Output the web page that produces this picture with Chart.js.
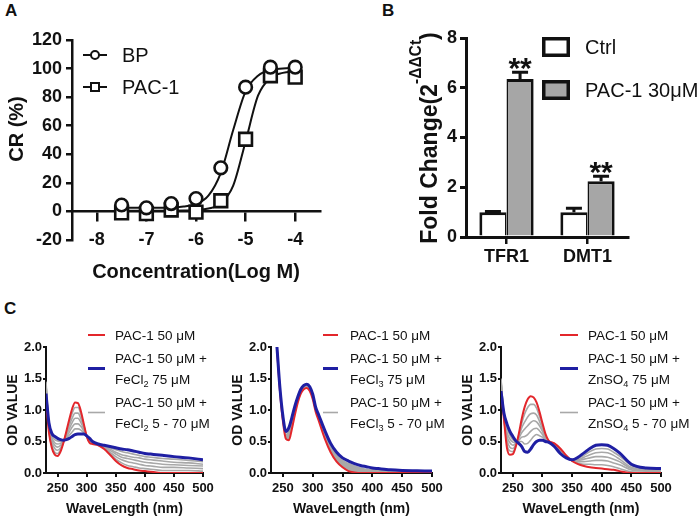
<!DOCTYPE html>
<html lang="en">
<head>
<meta charset="utf-8">
<title>PAC-1 figure</title>
<script src="https://cdn.jsdelivr.net/npm/chart.js@4.4.1/dist/chart.umd.min.js"></script>
<style>
  body { margin: 0; width: 700px; height: 523px; position: relative; overflow: hidden; background: #fff;
         font-family: "Liberation Sans", Arial, sans-serif; color: #111; }
  canvas { position: absolute; }
  .tag { position: absolute; font-size: 17px; font-weight: bold; line-height: 1; }
</style>
</head>
<body>
<div class="tag" style="left:5px;top:2px">A</div>
<div class="tag" style="left:382px;top:2px">B</div>
<div class="tag" style="left:4px;top:300px">C</div>
<canvas id="panelA" width="350" height="290" style="left:0;top:0"></canvas>
<canvas id="panelB" width="340" height="290" style="left:360px;top:0"></canvas>
<canvas id="panelC1" width="225" height="213" style="left:0;top:310px"></canvas>
<canvas id="panelC2" width="245" height="213" style="left:225px;top:310px"></canvas>
<canvas id="panelC3" width="245" height="213" style="left:455px;top:310px"></canvas>
<script>
/* ================= DATA: PANEL A ================= */
const concLog = [-7.5, -7, -6.5, -6, -5.5, -5, -4.5, -4];
const bpCR = [4.5, 2.5, 5.5, 9, 30.5, 87, 101, 101];
const pacCR = [-1, -1.5, 1, -0.5, 7.5, 50.5, 95, 94];
// fitted curves
const fitLog = [-7.5, -7.25, -7, -6.75, -6.5, -6.25, -6, -5.75, -5.5, -5.25, -5, -4.75, -4.5, -4.25, -4];
const bpFit = [2.5, 2.5, 2.5, 2.6, 2.8, 3.4, 5.2, 11, 27, 57, 84, 95, 99, 100, 100.5];
const pacFit = [0.5, 0.5, 0.5, 0.5, 0.5, 0.6, 0.9, 2, 5.5, 18, 49, 81, 93.5, 97, 98];
const concTicks = [-8, -7, -6, -5, -4];
const crTicks = [-20, 0, 20, 40, 60, 80, 100, 120];

/* ================= DATA: PANEL B ================= */
const genes = ["TFR1", "DMT1"];
const ctrlFold = [1.0, 1.0];
const ctrlErr = [0.03, 0.16];
const pacFold = [6.35, 2.24];
const pacErr = [0.27, 0.2];
const pacStars = ["**", "**"];
const foldTicks = [0, 2, 4, 6, 8];

/* ================= DATA: PANEL C ================= */
const waveNm = [230, 235, 240, 245, 250, 255, 260, 265, 270, 275, 280, 285, 290, 295, 300, 305, 310,
  320, 330, 340, 350, 360, 370, 380, 390, 400, 410, 420, 430, 450, 475, 500];
const wlTicks = [250, 300, 350, 400, 450, 500];
const odTicks = [0, 0.5, 1, 1.5, 2];

const fe2Red = [1.15, 0.65, 0.4, 0.29, 0.27, 0.34, 0.48, 0.66, 0.85, 1.02, 1.12, 1.11, 0.98, 0.78, 0.58, 0.48, 0.46,
  0.44, 0.38, 0.29, 0.19, 0.12, 0.08, 0.06, 0.04, 0.03, 0.02, 0.01, 0, 0, 0, 0];
const fe2Blue = [1.26, 0.8, 0.63, 0.58, 0.55, 0.53, 0.52, 0.53, 0.55, 0.58, 0.61, 0.62, 0.62, 0.62, 0.59, 0.55, 0.5,
  0.46, 0.44, 0.42, 0.4, 0.38, 0.37, 0.35, 0.33, 0.31, 0.3, 0.29, 0.28, 0.26, 0.24, 0.21];
const fe2Grays = [
  [1.4, 0.67, 0.43, 0.33, 0.31, 0.37, 0.49, 0.64, 0.8, 0.95, 1.04, 1.04, 0.93, 0.76, 0.58, 0.49, 0.47,
    0.44, 0.39, 0.31, 0.22, 0.16, 0.12, 0.1, 0.08, 0.07, 0.06, 0.05, 0.04, 0.04, 0.04, 0.03],
  [1.42, 0.7, 0.48, 0.39, 0.36, 0.4, 0.49, 0.62, 0.75, 0.87, 0.95, 0.95, 0.86, 0.73, 0.58, 0.5, 0.47,
    0.45, 0.4, 0.33, 0.26, 0.21, 0.18, 0.16, 0.14, 0.12, 0.11, 0.1, 0.09, 0.09, 0.08, 0.07],
  [1.45, 0.72, 0.52, 0.44, 0.41, 0.44, 0.5, 0.6, 0.7, 0.8, 0.87, 0.87, 0.8, 0.7, 0.59, 0.52, 0.48,
    0.45, 0.41, 0.36, 0.3, 0.25, 0.23, 0.21, 0.19, 0.17, 0.16, 0.15, 0.14, 0.13, 0.12, 0.11],
  [1.4, 0.75, 0.56, 0.48, 0.46, 0.47, 0.51, 0.57, 0.65, 0.73, 0.78, 0.78, 0.74, 0.67, 0.59, 0.53, 0.49,
    0.45, 0.42, 0.38, 0.33, 0.29, 0.27, 0.25, 0.24, 0.22, 0.21, 0.2, 0.19, 0.17, 0.16, 0.14],
  [1.35, 0.77, 0.59, 0.53, 0.51, 0.5, 0.51, 0.55, 0.6, 0.65, 0.7, 0.7, 0.68, 0.64, 0.59, 0.54, 0.49,
    0.46, 0.43, 0.4, 0.37, 0.34, 0.32, 0.3, 0.28, 0.26, 0.25, 0.24, 0.23, 0.22, 0.2, 0.18],
];

const fe3Red = [null, null, 1.98, 1.3, 0.82, 0.54, 0.52, 0.7, 0.92, 1.12, 1.26, 1.33, 1.35, 1.3, 1.17, 0.97, 0.83,
  0.55, 0.33, 0.18, 0.09, 0.03, 0.01, 0, 0, 0, 0, 0, 0, 0, 0, 0];
const fe3Blue = [null, null, 2.0, 1.35, 0.9, 0.66, 0.72, 0.88, 1.06, 1.21, 1.33, 1.39, 1.41, 1.37, 1.25, 1.04, 0.92,
  0.68, 0.47, 0.33, 0.24, 0.19, 0.15, 0.12, 0.1, 0.08, 0.07, 0.06, 0.05, 0.04, 0.035, 0.03];
const fe3Grays = [
  [null, null, 1.99, 1.33, 0.87, 0.61, 0.66, 0.84, 1.03, 1.18, 1.3, 1.36, 1.38, 1.34, 1.22, 1.01, 0.89,
    0.65, 0.44, 0.3, 0.2, 0.15, 0.11, 0.08, 0.06, 0.05, 0.04, 0.035, 0.03, 0.025, 0.02, 0.02],
];

const znRed = [1.3, 0.85, 0.4, 0.29, 0.3, 0.42, 0.62, 0.86, 1.05, 1.17, 1.22, 1.2, 1.12, 0.97, 0.79, 0.62, 0.52,
  0.47, 0.39, 0.28, 0.19, 0.14, 0.11, 0.09, 0.08, 0.07, 0.06, 0.05, 0.03, 0, 0, 0];
const znBlue = [1.3, 0.95, 0.78, 0.66, 0.58, 0.51, 0.47, 0.42, 0.34, 0.33, 0.38, 0.45, 0.5, 0.52, 0.52, 0.5, 0.49,
  0.42, 0.31, 0.24, 0.21, 0.25, 0.32, 0.39, 0.44, 0.45, 0.44, 0.39, 0.32, 0.14, 0.08, 0.07];
const znGrays = [
  [1.45, 0.87, 0.46, 0.35, 0.34, 0.43, 0.6, 0.79, 0.94, 1.04, 1.09, 1.09, 1.03, 0.9, 0.75, 0.6, 0.51,
    0.47, 0.38, 0.27, 0.19, 0.16, 0.14, 0.14, 0.13, 0.13, 0.12, 0.1, 0.07, 0.02, 0.01, 0.01],
  [1.48, 0.88, 0.53, 0.41, 0.39, 0.45, 0.57, 0.72, 0.81, 0.89, 0.94, 0.95, 0.92, 0.82, 0.7, 0.58, 0.51,
    0.46, 0.36, 0.27, 0.2, 0.18, 0.18, 0.19, 0.2, 0.2, 0.19, 0.16, 0.13, 0.05, 0.03, 0.02],
  [1.5, 0.9, 0.59, 0.48, 0.44, 0.47, 0.55, 0.64, 0.7, 0.75, 0.8, 0.83, 0.81, 0.75, 0.66, 0.56, 0.5,
    0.45, 0.35, 0.26, 0.2, 0.2, 0.22, 0.24, 0.26, 0.26, 0.25, 0.22, 0.18, 0.07, 0.04, 0.04],
  [1.45, 0.92, 0.65, 0.54, 0.49, 0.48, 0.52, 0.57, 0.58, 0.61, 0.66, 0.7, 0.71, 0.67, 0.61, 0.54, 0.5,
    0.45, 0.34, 0.25, 0.2, 0.21, 0.25, 0.29, 0.32, 0.33, 0.32, 0.28, 0.22, 0.09, 0.05, 0.05],
  [1.4, 0.93, 0.72, 0.6, 0.53, 0.5, 0.5, 0.5, 0.46, 0.47, 0.52, 0.58, 0.61, 0.59, 0.57, 0.52, 0.49,
    0.44, 0.32, 0.24, 0.2, 0.23, 0.28, 0.34, 0.38, 0.39, 0.38, 0.33, 0.27, 0.12, 0.07, 0.06],
];

/* ================= STYLE ================= */
const FONT = '"Liberation Sans", Arial, sans-serif';
const INK = "#111";
const RED = "#e3262b";
const BLUE = "#1f1fa3";
const GRAY = "#a8a8a8";
const BAR_GRAY = "#a6a6a6";

Chart.defaults.font.family = FONT;
Chart.defaults.color = INK;
Chart.defaults.animation = false;
Chart.defaults.plugins.legend.display = false;
Chart.defaults.plugins.tooltip.enabled = false;

/* ================= TEXT HELPERS ================= */
// "FeCl_{2}" -> subscript, "2^{-ΔΔCt}" -> superscript
function richSegments(str) {
  const out = [];
  const re = /([_^])\{([^}]*)\}/g;
  let last = 0;
  let m;
  while ((m = re.exec(str))) {
    if (m.index > last) out.push({ text: str.slice(last, m.index), shift: 0 });
    out.push({ text: m[2], shift: m[1] === "^" ? 1 : -1 });
    last = re.lastIndex;
  }
  if (last < str.length) out.push({ text: str.slice(last), shift: 0 });
  return out;
}

function drawRich(ctx, str, x, y, size, weight, draw = true) {
  let cx = x;
  ctx.textAlign = "left";
  ctx.textBaseline = "alphabetic";
  richSegments(str).forEach((seg) => {
    const fs = seg.shift ? size * 0.68 : size;
    ctx.font = `${weight} ${fs}px ${FONT}`;
    const dy = seg.shift > 0 ? -size * 0.68 : seg.shift < 0 ? size * 0.2 : 0;
    if (draw) ctx.fillText(seg.text, cx, y + dy);
    cx += ctx.measureText(seg.text).width;
  });
  return cx - x;
}

function pairs(xs, ys) {
  return xs.map((x, i) => ({ x, y: ys[i] }));
}

/* ================= PLUGINS ================= */
function drawGlyph(ctx, ds, o, y) {
  if (o.glyph === "box") {
    ctx.fillStyle = ds.backgroundColor;
    ctx.fillRect(o.x0, y - o.boxH / 2, o.x1 - o.x0, o.boxH);
    ctx.lineWidth = 3.5;
    ctx.strokeStyle = ds.borderColor;
    ctx.strokeRect(o.x0 + 1.75, y - o.boxH / 2 + 1.75, o.x1 - o.x0 - 3.5, o.boxH - 3.5);
    return;
  }
  ctx.strokeStyle = ds.borderColor;
  ctx.lineWidth = ds.borderWidth;
  ctx.beginPath();
  ctx.moveTo(o.x0, y);
  ctx.lineTo(o.x1, y);
  ctx.stroke();
  if (o.glyph === "lineMarker") {
    const cx = (o.x0 + o.x1) / 2;
    const r = o.marker;
    ctx.fillStyle = "#fff";
    ctx.lineWidth = 2;
    ctx.beginPath();
    if (ds.pointStyle === "rect") ctx.rect(cx - r, y - r, 2 * r, 2 * r);
    else ctx.arc(cx, y, r, 0, Math.PI * 2);
    ctx.fill();
    ctx.stroke();
  }
}

// legend drawn inside the plot, like the original figure
const panelLegend = {
  id: "panelLegend",
  afterDraw(chart, args, o) {
    const ctx = chart.ctx;
    let y = o.y0;
    ctx.save();
    chart.data.datasets.forEach((ds) => {
      if (!ds.legendText) return;
      const lines = ds.legendText;
      drawGlyph(ctx, ds, o, y + ((lines.length - 1) * o.rowHeight) / 2);
      ctx.fillStyle = INK;
      lines.forEach((t, k) => {
        drawRich(ctx, t, o.textX, y + k * o.rowHeight + o.size * 0.36, o.size, "normal");
      });
      y += lines.length * o.rowHeight + o.gap;
    });
    ctx.restore();
  },
};

// rotated y title (supports superscript), placed where the original has it
const sideTitle = {
  id: "sideTitle",
  afterDraw(chart, args, o) {
    const ctx = chart.ctx;
    ctx.save();
    ctx.translate(o.x, o.y);
    ctx.rotate(-Math.PI / 2);
    ctx.fillStyle = INK;
    const w = drawRich(ctx, o.text, 0, 0, o.size, "bold", false);
    drawRich(ctx, o.text, -w / 2, 0, o.size, "bold");
    ctx.restore();
  },
};

// error bars and significance marks
const errorBars = {
  id: "errorBars",
  afterDatasetsDraw(chart, args, o) {
    const { ctx } = chart;
    const yScale = chart.scales.y;
    ctx.save();
    ctx.strokeStyle = INK;
    ctx.fillStyle = INK;
    ctx.lineWidth = 3;
    chart.data.datasets.forEach((ds, i) => {
      chart.getDatasetMeta(i).data.forEach((bar, j) => {
        const top = yScale.getPixelForValue(ds.data[j] + ds.errors[j]);
        ctx.beginPath();
        ctx.moveTo(bar.x, bar.y);
        ctx.lineTo(bar.x, top);
        ctx.moveTo(bar.x - o.capHalf, top);
        ctx.lineTo(bar.x + o.capHalf, top);
        ctx.stroke();
        if (ds.stars) {
          ctx.font = `bold ${o.starSize}px ${FONT}`;
          ctx.textAlign = "center";
          ctx.textBaseline = "alphabetic";
          ctx.fillText(ds.stars[j], bar.x, top + o.starDy);
        }
      });
    });
    ctx.restore();
  },
};

/* ================= AXIS BUILDER ================= */
function axis(a) {
  const ticks = { font: { size: a.tickSize, weight: "bold" }, padding: a.tickPad, maxRotation: 0, color: INK };
  if (a.format) ticks.callback = a.format;
  return {
    type: "linear",
    min: a.min,
    max: a.max,
    afterBuildTicks: (s) => { s.ticks = a.ticks.map((v) => ({ value: v })); },
    afterFit: (s) => {
      if (a.width) s.width = a.width;
      if (a.height) s.height = a.height;
    },
    ticks,
    grid: { drawOnChartArea: false, tickLength: a.tickLen, color: INK, lineWidth: a.line },
    border: { color: INK, width: a.line },
    title: a.title
      ? { display: true, text: a.title, color: INK, font: { size: a.titleSize, weight: "bold" }, padding: a.titlePad }
      : { display: false },
  };
}

/* ================= PANEL A ================= */
function renderPanelA() {
  const xAxis = axis({
    min: -8.5, max: -3.5, ticks: concTicks, tickSize: 18, tickPad: 9, tickLen: 9, line: 2.5,
    title: "Concentration(Log M)", titleSize: 20, titlePad: { top: 0, bottom: 0 },
  });
  xAxis.position = { y: 0 };

  new Chart(document.getElementById("panelA"), {
    type: "line",
    data: {
      datasets: [
        { label: "BP", data: pairs(concLog, bpCR), showLine: false, pointStyle: "circle", pointRadius: 6.3,
          pointBorderWidth: 2.6, pointBorderColor: INK, pointBackgroundColor: "#fff",
          borderColor: INK, borderWidth: 2, legendText: ["BP"] },
        { label: "PAC-1", data: pairs(concLog, pacCR), showLine: false, pointStyle: "rect", pointRadius: 9,
          pointBorderWidth: 2.6, pointBorderColor: INK, pointBackgroundColor: "#fff",
          borderColor: INK, borderWidth: 2, legendText: ["PAC-1"] },
        { label: "BP fit", data: pairs(fitLog, bpFit), pointRadius: 0, borderColor: INK, borderWidth: 2,
          cubicInterpolationMode: "monotone", fill: false },
        { label: "PAC-1 fit", data: pairs(fitLog, pacFit), pointRadius: 0, borderColor: INK, borderWidth: 2,
          cubicInterpolationMode: "monotone", fill: false },
      ],
    },
    options: {
      responsive: false,
      devicePixelRatio: 1,
      layout: { padding: { left: 0, top: 40, right: 30, bottom: 50 } },
      scales: {
        x: xAxis,
        y: axis({ min: -20, max: 120, ticks: crTicks, width: 72, tickSize: 18, tickPad: 4, tickLen: 6, line: 2.5 }),
      },
      plugins: {
        panelLegend: { glyph: "lineMarker", x0: 83, x1: 107, textX: 122, y0: 55, rowHeight: 32, gap: 0, size: 20, marker: 4 },
        sideTitle: { text: "CR (%)", x: 23, y: 129, size: 20 },
      },
    },
    plugins: [panelLegend, sideTitle],
  });
}

/* ================= PANEL B ================= */
function renderPanelB() {
  new Chart(document.getElementById("panelB"), {
    type: "bar",
    data: {
      labels: genes,
      datasets: [
        { label: "Ctrl", data: ctrlFold, errors: ctrlErr, backgroundColor: "#fff", borderColor: INK,
          borderWidth: { top: 3, left: 3, right: 1.5, bottom: 0 }, categoryPercentage: 0.67, barPercentage: 1,
          legendText: ["Ctrl"] },
        { label: "PAC-1 30μM", data: pacFold, errors: pacErr, stars: pacStars, backgroundColor: BAR_GRAY,
          borderColor: INK, borderWidth: { top: 3, left: 1.5, right: 3, bottom: 0 }, categoryPercentage: 0.67,
          barPercentage: 1, legendText: ["PAC-1 30μM"] },
      ],
    },
    options: {
      responsive: false,
      devicePixelRatio: 1,
      layout: { padding: { left: 0, top: 38, right: 72, bottom: 0 } },
      scales: {
        x: {
          afterFit: (s) => { s.height = 53; },
          ticks: { font: { size: 18, weight: "bold" }, padding: 2, color: INK },
          grid: { offset: false, drawOnChartArea: false, tickLength: 7, color: INK, lineWidth: 2.5 },
          border: { color: INK, width: 3 },
        },
        y: axis({ min: 0, max: 8, ticks: foldTicks, width: 106, tickSize: 18, tickPad: 3, tickLen: 6, line: 3 }),
      },
      plugins: {
        panelLegend: { glyph: "box", x0: 182, x1: 210, boxH: 20, textX: 225, y0: 47, rowHeight: 43, gap: 0, size: 20 },
        errorBars: { capHalf: 8, starSize: 30, starDy: 6 },
        sideTitle: { text: "Fold Change(2^{-ΔΔCt})", x: 77, y: 138, size: 23 },
      },
    },
    plugins: [panelLegend, errorBars, sideTitle],
  });
}

/* ================= PANEL C ================= */
function spectrumLine(label, data, color, width, order, legendText) {
  return {
    label, data, borderColor: color, borderWidth: width, order, legendText,
    pointRadius: 0, fill: false, cubicInterpolationMode: "monotone",
  };
}

function renderSpectrum(id, red, blue, grays, salt, legend, bandFill) {
  const datasets = [
    spectrumLine("PAC-1 50 μM", red, RED, 2, 1, ["PAC-1 50 μM"]),
    spectrumLine(`PAC-1 50 μM + ${salt.plain} 75 μM`, blue, BLUE, 3, 0, ["PAC-1 50 μM +", `${salt.rich} 75 μM`]),
  ];
  grays.forEach((g, k) => {
    const ds = spectrumLine(`PAC-1 50 μM + ${salt.plain} 5 - 70 μM`, g, GRAY, 1.6, 2,
      k === 0 ? ["PAC-1 50 μM +", `${salt.rich} 5 - 70 μM`] : undefined);
    if (bandFill) {
      ds.fill = { target: 0 };
      ds.backgroundColor = GRAY;
    }
    datasets.push(ds);
  });

  const canvas = document.getElementById(id);
  new Chart(canvas, {
    type: "line",
    data: { labels: waveNm, datasets: datasets.map((ds) => ({ ...ds, data: pairs(waveNm, ds.data) })) },
    options: {
      responsive: false,
      devicePixelRatio: 1,
      layout: { padding: { left: 0, top: 37, right: canvas.width - legend.plotRight, bottom: 0 } },
      scales: {
        x: axis({
          min: 230, max: 500, ticks: wlTicks, height: 50, tickSize: 13, tickPad: 4, tickLen: 4, line: 2,
          title: "WaveLength (nm)", titleSize: 14, titlePad: { top: 0, bottom: 5 },
        }),
        y: axis({
          min: 0, max: 2, ticks: odTicks, width: 46, tickSize: 13, tickPad: 1, tickLen: 3, line: 2,
          format: (v) => v.toFixed(1), title: "OD VALUE", titleSize: 14, titlePad: { top: 5, bottom: 0 },
        }),
      },
      plugins: {
        panelLegend: { glyph: "line", x0: legend.x0, x1: legend.x1, textX: legend.textX, y0: 25, rowHeight: 21, gap: 2, size: 13.5 },
      },
    },
    plugins: [panelLegend],
  });
}

/* ================= INIT ================= */
renderPanelA();
renderPanelB();
renderSpectrum("panelC1", fe2Red, fe2Blue, fe2Grays, { rich: "FeCl_{2}", plain: "FeCl₂" },
  { x0: 88, x1: 105, textX: 115, plotRight: 203 }, false);
renderSpectrum("panelC2", fe3Red, fe3Blue, fe3Grays, { rich: "FeCl_{3}", plain: "FeCl₃" },
  { x0: 98, x1: 113, textX: 125, plotRight: 207 }, true);
renderSpectrum("panelC3", znRed, znBlue, znGrays, { rich: "ZnSO_{4}", plain: "ZnSO₄" },
  { x0: 105, x1: 123, textX: 133, plotRight: 206 }, false);
</script>
</body>
</html>
